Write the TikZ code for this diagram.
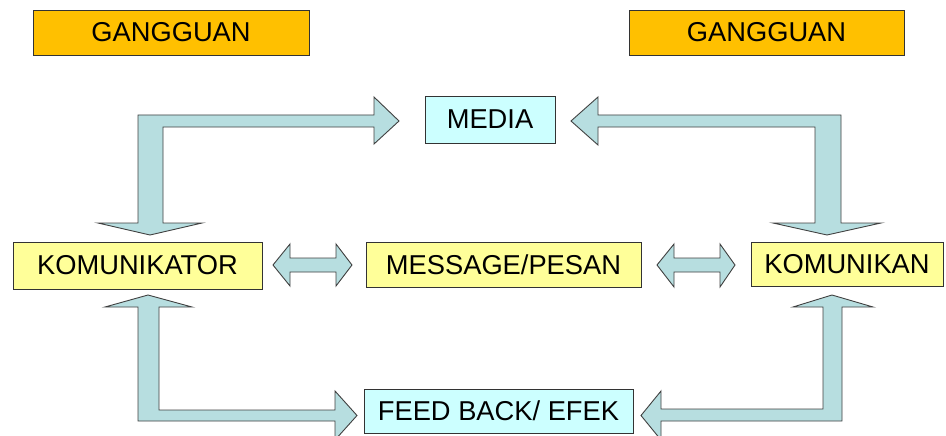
\documentclass[tikz,border=0pt]{standalone}
\usepackage{fontspec}
\setmainfont{Liberation Sans}
\begin{document}
\begin{tikzpicture}[x=1pt,y=-1pt,
  box/.style={draw=black!80,line width=0.9pt,inner sep=0pt,font=\fontsize{27.3}{31}\selectfont},
  noise/.style={box,fill=gold},
  yel/.style={box,fill=paleyellow},
  cyn/.style={box,fill=palecyan},
  blockarrow/.style={fill=arrowblue,draw=black!75,line width=0.9pt,line join=miter}]
\definecolor{gold}{HTML}{FFC000}
\definecolor{paleyellow}{HTML}{FFFF99}
\definecolor{palecyan}{HTML}{CCFFFF}
\definecolor{arrowblue}{HTML}{B7DEE0}
\useasboundingbox (0,0) rectangle (946,436);
% nodes
\node[noise,minimum width=276pt,minimum height=45pt] (g1) at (171,32.5) {GANGGUAN};
\node[noise,minimum width=275pt,minimum height=45pt] (g2) at (766.5,32.5) {GANGGUAN};
\node[cyn,minimum width=130pt,minimum height=47pt] (media) at (490,119.5) {MEDIA};
\node[yel,minimum width=249pt,minimum height=47pt] (kor) at (137.5,265.5) {KOMUNIKATOR};
\node[yel,minimum width=275pt,minimum height=45pt] (msg) at (503.5,264.5) {MESSAGE/PESAN};
\node[yel,minimum width=192pt,minimum height=44pt] (kan) at (847,264.5) {KOMUNIKAN};
\node[cyn,minimum width=269pt,minimum height=44pt] (fb) at (498.5,411) {FEED BACK/ EFEK};
% top-left bent arrow
\draw[blockarrow] (150,235) -- (202,223) -- (163,223) -- (163,127) -- (374,127) -- (374,144)
  -- (399,121) -- (374,97) -- (374,115) -- (138,115) -- (138,223) -- (98,223) -- cycle;
% top-right bent arrow
\draw[blockarrow] (827,235) -- (773,223) -- (815,223) -- (815,127) -- (598,127) -- (598,145)
  -- (571,121) -- (598,97) -- (598,115) -- (841,115) -- (841,223) -- (881,223) -- cycle;
% bottom-left bent arrow
\draw[blockarrow] (148,295) -- (192,307) -- (159,307) -- (159,410) -- (335,410) -- (335,391)
  -- (357,415.5) -- (335,440) -- (335,421) -- (138,421) -- (138,307) -- (105,307) -- cycle;
% bottom-right bent arrow
\draw[blockarrow] (832,295) -- (873,307) -- (842,307) -- (842,421) -- (661,421) -- (661,440)
  -- (641,415.5) -- (661,391) -- (661,409) -- (823,409) -- (823,307) -- (793,307) -- cycle;
% double arrows
\draw[blockarrow] (273,265) -- (290,244) -- (290,258) -- (336,258) -- (336,244) -- (352,265)
  -- (336,286) -- (336,272) -- (290,272) -- (290,286) -- cycle;
\draw[blockarrow] (657,265) -- (674,244) -- (674,258) -- (720,258) -- (720,244) -- (735,265)
  -- (720,287) -- (720,272) -- (674,272) -- (674,287) -- cycle;
\end{tikzpicture}
\end{document}
